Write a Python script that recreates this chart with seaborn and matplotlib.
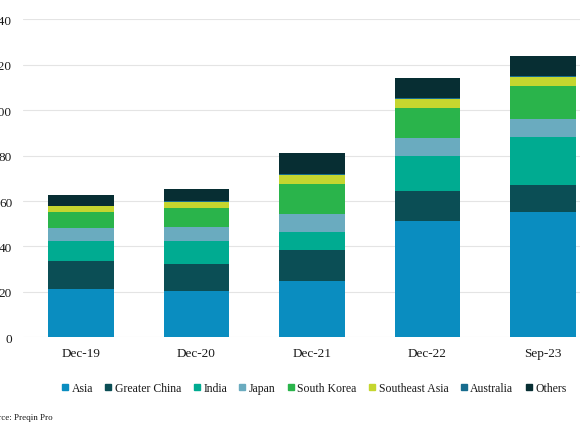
import numpy as np
import pandas as pd
import matplotlib
import matplotlib.pyplot as plt
from matplotlib.lines import Line2D
import seaborn as sns

matplotlib.use("Agg")

periods = ["Dec-19", "Dec-20", "Dec-21", "Dec-22", "Sep-23"]
regions = ["Asia", "Greater China", "India", "Japan", "South Korea",
           "Southeast Asia", "Australia", "Others"]

asia = [21.3, 20.3, 24.8, 51.2, 55.0]
greater_china = [12.4, 12.1, 13.6, 13.4, 12.1]
india = [8.6, 9.9, 7.8, 15.4, 21.0]
japan = [6.0, 6.4, 8.0, 7.9, 7.9]
south_korea = [6.7, 8.1, 13.3, 13.2, 14.8]
southeast_asia = [2.7, 2.8, 4.1, 3.8, 3.8]
australia = [0.2, 0.3, 0.3, 0.3, 0.3]
others = [4.7, 5.6, 9.1, 9.1, 9.0]

colors = ["#0a8dc0", "#0b4e55", "#00ab91", "#6aabbf", "#2ab44b",
          "#c5d62f", "#176c8e", "#072e33"]

values = [asia, greater_china, india, japan, south_korea,
          southeast_asia, australia, others]
df = pd.DataFrame({"period": periods * len(regions),
                   "region": np.repeat(regions, len(periods)),
                   "value": np.concatenate(values)})

sns.set_style("white")
plt.rcParams["font.family"] = ["Liberation Serif", "DejaVu Serif"]

fig = plt.figure(figsize=(5.8, 4.35), dpi=100)
ax = fig.add_axes([23.25 / 580, 0.2223, 577.5 / 580, 0.7310])

# seaborn stacks the first hue level on top, so reverse the order
sns.histplot(data=df, x="period", weights="value", hue="region",
             hue_order=regions[::-1], palette=dict(zip(regions, colors)),
             multiple="stack", discrete=True, shrink=0.57,
             alpha=1, linewidth=0, edgecolor="none", legend=False, ax=ax)

ax.set_xlim(-0.5, 4.5)
ax.set_ylim(0, 140)
ax.set_yticks(range(0, 141, 20))
ax.set_xticks(range(len(periods)))
ax.set_xticklabels(periods)
ax.set_xlabel("")
ax.set_ylabel("")
ax.grid(axis="y", color="#e4e4e4", linewidth=0.8)
ax.set_axisbelow(True)
for s in ax.spines.values():
    s.set_visible(False)
ax.tick_params(axis="both", length=0, labelsize=9.5, colors="#1a1a1a")
ax.tick_params(axis="y", pad=8)
ax.tick_params(axis="x", pad=7)

handles = [Line2D([], [], marker="s", linestyle="", markersize=4.5,
                  color=c) for c in colors]
fig.legend(handles, regions, ncol=8, loc="center",
           bbox_to_anchor=(314 / 580, 0.1057), frameon=False,
           fontsize=8.5, handlelength=0.6, handletextpad=0.25,
           columnspacing=1.0, labelcolor="#1a1a1a")

fig.text(53 / 580, 0.039, "Source: Preqin Pro", ha="right", va="center",
         fontsize=6.5, color="#1a1a1a")

fig.savefig("out.png", dpi=100)
